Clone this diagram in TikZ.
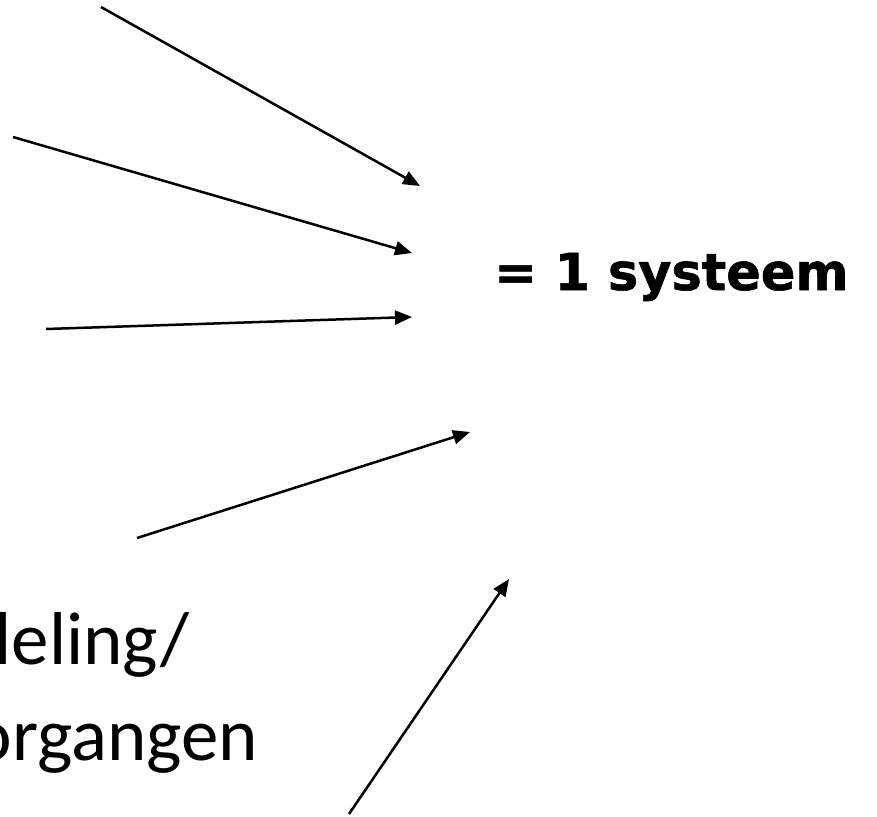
\documentclass[tikz,border=0pt]{standalone}
\usepackage{fontspec}
\setmainfont{Carlito}
\newfontfamily\labelfont[BoldFeatures={FakeBold=1.2}]{DejaVu Sans}
\usetikzlibrary{arrows.meta}
\begin{document}
\begin{tikzpicture}[x=1pt,y=-1pt,
  pointer/.style={line width=2.5pt,-{Triangle[length=17pt,width=14pt]}},
  bodytext/.style={inner sep=0pt,font=\fontsize{75}{90}\selectfont},
  resulttext/.style={inner sep=0pt,font=\labelfont\bfseries\fontsize{51}{62}\selectfont}]
\useasboundingbox (0,0) rectangle (877,816);

% arrow start and end points
\coordinate (s1) at (101,7);   \coordinate (t1) at (420,186);
\coordinate (s2) at (13,137);  \coordinate (t2) at (412,253);
\coordinate (s3) at (46,329);  \coordinate (t3) at (412,317);
\coordinate (s4) at (137,538); \coordinate (t4) at (470,432);
\coordinate (s5) at (349,814); \coordinate (t5) at (509,579);

\foreach \i in {1,...,5} \draw[pointer] (s\i) -- (t\i);

% labels
\node[resulttext,anchor=base west] (res) at (494,290) {= 1 systeem};
\node[bodytext,anchor=base east] (l1) at (190,664) {leling/};
\node[bodytext,anchor=base east] (l2) at (258,760) {organgen};
\end{tikzpicture}
\end{document}
